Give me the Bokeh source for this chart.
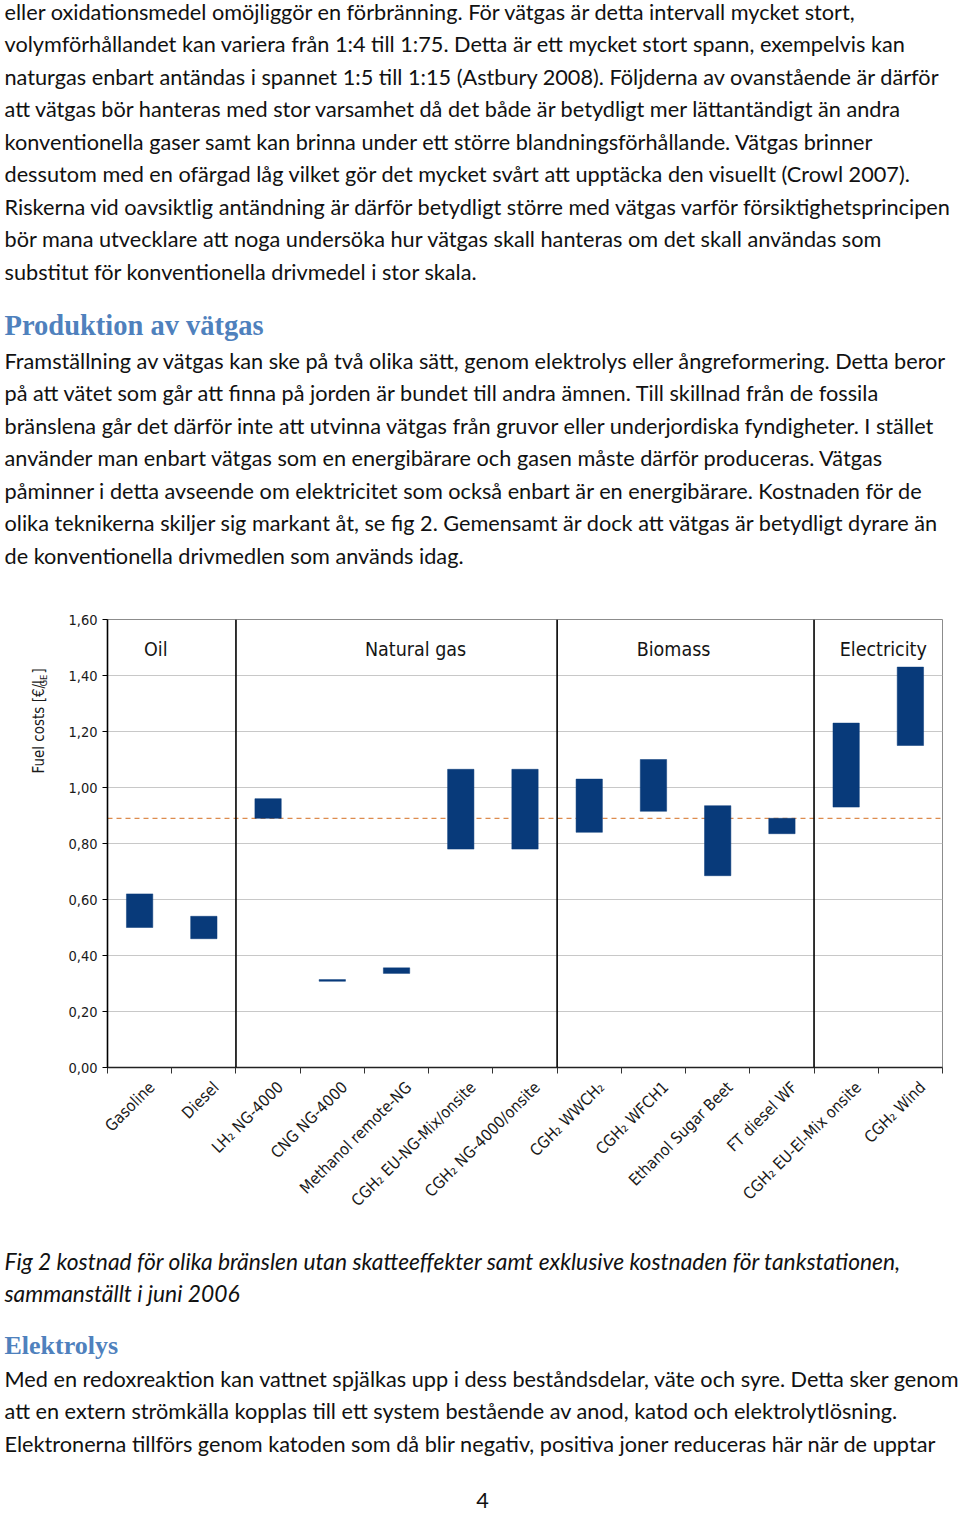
import math
from bokeh.plotting import figure
from bokeh.layouts import column, row
from bokeh.models import Range1d, FixedTicker, CustomJSTickFormatter, Span, ColumnDataSource
from bokeh.core.properties import value
from bokeh.embed import file_html
from bokeh.resources import INLINE

# ---------------- data ----------------
categories = ["Gasoline", "Diesel", "LH₂ NG-4000", "CNG NG-4000", "Methanol remote-NG",
              "CGH₂ EU-NG-Mix/onsite", "CGH₂ NG-4000/onsite", "CGH₂ WWCH₂", "CGH₂ WFCH1",
              "Ethanol Sugar Beet", "FT diesel WF", "CGH₂ EU-El-Mix onsite", "CGH₂ Wind"]
cost_low = [0.50, 0.46, 0.89, 0.308, 0.336, 0.78, 0.78, 0.84, 0.915, 0.685, 0.835, 0.93, 1.15]
cost_high = [0.62, 0.54, 0.96, 0.314, 0.356, 1.065, 1.065, 1.03, 1.10, 0.935, 0.89, 1.23, 1.43]
groups = ["Oil", "Natural gas", "Biomass", "Electricity"]
group_sizes = [2, 5, 4, 2]
reference_cost = 0.89
y_ticks = [0.0, 0.2, 0.4, 0.6, 0.8, 1.0, 1.2, 1.4, 1.6]
y_title = ["Fuel costs [€/l", "GE", "]"]

para1 = [
    "eller oxidationsmedel omöjliggör en förbränning. För vätgas är detta intervall mycket stort,",
    "volymförhållandet kan variera från 1:4 till 1:75. Detta är ett mycket stort spann, exempelvis kan",
    "naturgas enbart antändas i spannet 1:5 till 1:15 (Astbury 2008). Följderna av ovanstående är därför",
    "att vätgas bör hanteras med stor varsamhet då det både är betydligt mer lättantändigt än andra",
    "konventionella gaser samt kan brinna under ett större blandningsförhållande. Vätgas brinner",
    "dessutom med en ofärgad låg vilket gör det mycket svårt att upptäcka den visuellt (Crowl 2007).",
    "Riskerna vid oavsiktlig antändning är därför betydligt större med vätgas varför försiktighetsprincipen",
    "bör mana utvecklare att noga undersöka hur vätgas skall hanteras om det skall användas som",
    "substitut för konventionella drivmedel i stor skala.",
]
heading1 = "Produktion av vätgas"
para2 = [
    "Framställning av vätgas kan ske på två olika sätt, genom elektrolys eller ångreformering. Detta beror",
    "på att vätet som går att finna på jorden är bundet till andra ämnen. Till skillnad från de fossila",
    "bränslena går det därför inte att utvinna vätgas från gruvor eller underjordiska fyndigheter. I stället",
    "använder man enbart vätgas som en energibärare och gasen måste därför produceras. Vätgas",
    "påminner i detta avseende om elektricitet som också enbart är en energibärare. Kostnaden för de",
    "olika teknikerna skiljer sig markant åt, se fig 2. Gemensamt är dock att vätgas är betydligt dyrare än",
    "de konventionella drivmedlen som används idag.",
]
caption = [
    "Fig 2 kostnad för olika bränslen utan skatteeffekter samt exklusive kostnaden för tankstationen,",
    "sammanställt i juni 2006",
]
heading2 = "Elektrolys"
para3 = [
    "Med en redoxreaktion kan vattnet spjälkas upp i dess beståndsdelar, väte och syre. Detta sker genom",
    "att en extern strömkälla kopplas till ett system bestående av anod, katod och elektrolytlösning.",
    "Elektronerna tillförs genom katoden som då blir negativ, positiva joner reduceras här när de upptar",
]
page_number = "4"

# ---------------- styles ----------------
W = 960
BODY_FONT = "Lato"
BODY_SIZE = "21.7px"
CAP_SIZE = "22.8px"
LINE = 32.5
TEXT_COLOR = "#111111"
HEAD_COLOR = "#4f81bd"
HEAD_FONT = "Liberation Serif"
CH_FONT = "DejaVu Sans Condensed"
BAR_COLOR = "#083a7a"
X0 = 4


def text_fig(w, h, y0):
    f = figure(width=w, height=h, x_range=Range1d(0, w), y_range=Range1d(y0 + h, y0),
               x_axis_type=None, y_axis_type=None, output_backend="svg",
               toolbar_location=None, min_border=0, frame_align=False)
    f.grid.visible = False
    f.outline_line_color = None
    f.background_fill_color = "white"
    return f


def add_lines(f, lines, y0, size=BODY_SIZE, style="normal"):
    ys = [y0 + i * LINE for i in range(len(lines))]
    f.text(x=[X0] * len(lines), y=ys, text=lines, text_font=value(BODY_FONT),
           text_font_size=size, text_font_style=style, text_color=TEXT_COLOR,
           text_baseline="middle", text_align="left", text_line_height=1.0)


def add_heading(f, txt, y, size):
    f.text(x=[X0], y=[y], text=[txt], text_font=value(HEAD_FONT), text_font_size=size,
           text_font_style="bold", text_color=HEAD_COLOR, text_baseline="middle",
           text_line_height=1.0)


# ---- top text: page y 0..590
TOP_H = 590
top = text_fig(W, TOP_H, 0)
add_lines(top, para1, 11)
add_heading(top, heading1, 325, "28.5px")
add_lines(top, para2, 360)

# ---- chart row: page y 590..1225
CH_TOP = 590
CH_H = 635
YL_W = 55

ylab = text_fig(YL_W, CH_H, CH_TOP)
ylab.text(x=[38, 42.5, 38], y=[773, 686, 673], text=y_title, angle=math.pi / 2,
          text_font=value(CH_FONT), text_font_size=["15px", "9.5px", "15px"],
          text_color="#1a1a1a", text_align="left", text_baseline="middle")

p = figure(width=W - YL_W, height=CH_H, x_range=Range1d(0, len(categories)),
           y_range=Range1d(0, 1.6), output_backend="svg", toolbar_location=None,
           min_border_left=107 - YL_W, min_border_right=18, min_border_top=29,
           min_border_bottom=158, frame_align=False)
p.outline_line_color = "#8c8c8c"
p.background_fill_color = "white"
p.xgrid.visible = False
p.ygrid.grid_line_color = "#c8c8c8"
p.ygrid.grid_line_width = 1.2

centers = [i + 0.5 for i in range(len(categories))]
src = ColumnDataSource(dict(x=centers, low=cost_low, high=cost_high, name=categories))
p.add_layout(Span(location=reference_cost, dimension="width", line_color="#dd8c4e",
                  line_dash="5 4", line_width=1.2, level="underlay"))
p.vbar(x="x", width=0.41, bottom="low", top="high", source=src,
       fill_color=BAR_COLOR, line_color=BAR_COLOR, line_width=0.5)

bounds = []
acc = 0
for s in group_sizes[:-1]:
    acc += s
    bounds.append(acc)
for b in bounds:
    p.add_layout(Span(location=b, dimension="height", line_color="black", line_width=1.6))

starts = [0] + bounds
group_centers = [st + s / 2 for st, s in zip(starts, group_sizes)]
p.text(x=group_centers, y=[1.493] * len(groups), text=groups, x_offset=[-16, 19, -12, 5],
       text_font=value(CH_FONT), text_font_size="19.5px", text_color="#151515",
       text_align="center", text_baseline="middle")

# axes
p.yaxis.ticker = FixedTicker(ticks=y_ticks)
p.yaxis.formatter = CustomJSTickFormatter(code="return tick.toFixed(2).replace('.', ',')")
p.yaxis.axis_line_color = "black"
p.yaxis.axis_line_width = 1.6
p.yaxis.major_tick_line_color = "black"
p.yaxis.major_tick_out = 5
p.yaxis.major_tick_in = 0
p.yaxis.minor_tick_line_color = None
p.yaxis.major_label_standoff = 5
p.yaxis.major_label_text_font = CH_FONT
p.yaxis.major_label_text_font_size = "14.5px"
p.yaxis.major_label_text_color = "#1a1a1a"

label_pos = [c + 0.19 for c in centers]   # label anchor sits a little right of the slot centre
p.xaxis.ticker = FixedTicker(ticks=label_pos, minor_ticks=list(range(len(categories) + 1)))
p.xaxis.formatter = CustomJSTickFormatter(args=dict(labels=categories),
                                          code="return labels[Math.floor(tick)]")
p.xaxis.axis_line_color = "#222222"
p.xaxis.axis_line_width = 1.4
p.xaxis.major_tick_line_color = None
p.xaxis.major_tick_out = 0
p.xaxis.major_tick_in = 0
p.xaxis.minor_tick_line_color = "#333333"
p.xaxis.minor_tick_out = 6
p.xaxis.minor_tick_in = 0
p.xaxis.major_label_standoff = 11
p.xaxis.major_label_orientation = math.pi / 4
p.xaxis.major_label_text_font = CH_FONT
p.xaxis.major_label_text_font_size = "16px"
p.xaxis.major_label_text_color = "#1a1a1a"

# ---- bottom text: page y 1225..1512
BOT_TOP = CH_TOP + CH_H
BOT_H = 1512 - BOT_TOP
bot = text_fig(W, BOT_H, BOT_TOP)
add_lines(bot, caption, 1260, size=CAP_SIZE, style="italic")
add_heading(bot, heading2, 1345, "26px")
add_lines(bot, para3, 1378)
bot.text(x=[482], y=[1500], text=[page_number], text_font=value(BODY_FONT),
         text_font_size=BODY_SIZE, text_color=TEXT_COLOR, text_align="center",
         text_baseline="middle", text_line_height=1.0)

layout = column(top, row(ylab, p, spacing=0), bot, spacing=0)
open("out.html", "w").write(file_html(layout, INLINE))
